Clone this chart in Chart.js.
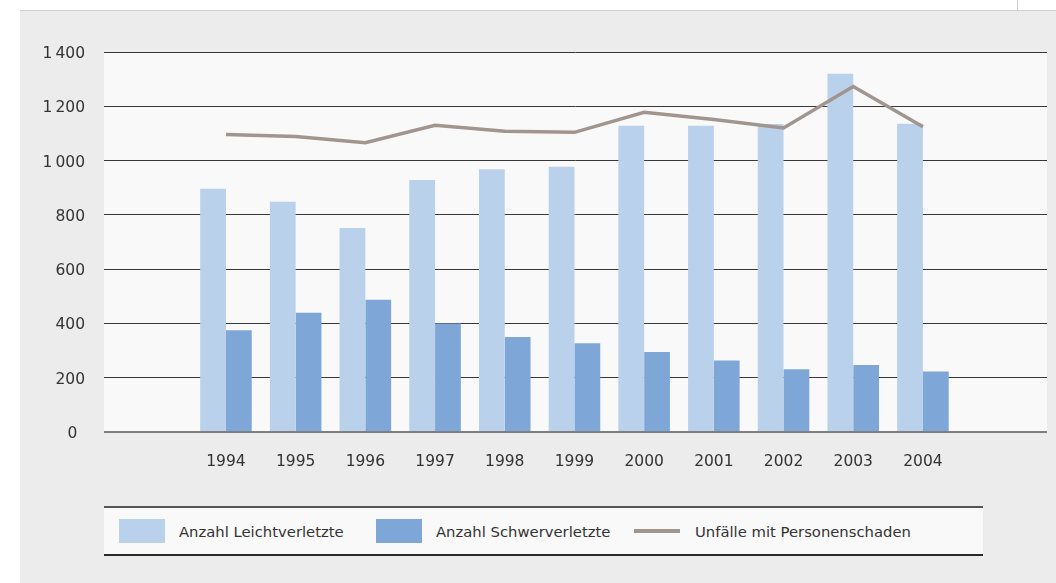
<!DOCTYPE html>
<html>
<head>
<meta charset="utf-8">
<script src="https://cdn.jsdelivr.net/npm/chart.js@4.4.1/dist/chart.umd.min.js"></script>
<style>
  html, body { margin: 0; padding: 0; background: #fff; }
  body { width: 1056px; height: 583px; position: relative; overflow: hidden; font-family: "DejaVu Sans", sans-serif; }
  #panel { position: absolute; left: 20px; top: 10px; right: 0; bottom: 0; background: #ececec; border-top: 1px solid #cfcfcf; }
  #vline { position: absolute; left: 1017px; top: 0; width: 1px; height: 10px; background: #cfcfcf; }
  #chart { position: absolute; left: 0; top: 0; }
  #legend { position: absolute; left: 104px; top: 506px; width: 879px; height: 46px; background: #f9f9f9;
            border-top: 2px solid #555; border-bottom: 2px solid #2a2a2a; }
  .item { position: absolute; top: 0; height: 46px; display: flex; align-items: center; font-size: 14.8px; color: #333; white-space: nowrap; }
  .swatch { width: 46px; height: 24px; margin-right: 14px; }
  .lineswatch { width: 46px; height: 4px; margin-right: 15px; }
</style>
</head>
<body>
<div id="panel"></div>
<div id="vline"></div>
<canvas id="chart" width="1056" height="583"></canvas>
<div id="legend"></div>
<script>
// values
const years = [1994, 1995, 1996, 1997, 1998, 1999, 2000, 2001, 2002, 2003, 2004];
const leichtverletzte = [896, 848, 752, 928, 968, 977, 1128, 1128, 1135, 1320, 1136];
const schwerverletzte = [375, 439, 487, 400, 350, 327, 295, 263, 231, 247, 223];
const unfaelle = [1096, 1089, 1066, 1130, 1108, 1104, 1178, 1151, 1120, 1273, 1125];
const yTicks = [0, 200, 400, 600, 800, 1000, 1200, 1400];
const seriesNames = ["Anzahl Leichtverletzte", "Anzahl Schwerverletzte", "Unfälle mit Personenschaden"];

const tickFont = { family: "DejaVu Sans", size: 15.5 };

function fmt(v) {
    if (v === 0) return "0\u2002";
    return String(v).replace(/(\d)(\d{3})$/, "$1\u2009$2");
}

// white plot area behind the bars
const plotBg = {
    id: "plotBg",
    beforeDraw(chart) {
        const { ctx, chartArea: a } = chart;
        ctx.save();
        ctx.fillStyle = "#f9f9f9";
        ctx.fillRect(a.left, a.top, a.right - a.left, a.bottom - a.top);
        ctx.restore();
    }
};

const pts = arr => years.map((x, i) => ({ x: x, y: arr[i] }));

const chart = new Chart(document.getElementById("chart"), {
    type: "bar",
    data: {
        datasets: [
            {
                type: "line",
                label: seriesNames[2],
                data: pts(unfaelle),
                borderColor: "#a0958f",
                borderWidth: 3.5,
                pointRadius: 0,
                tension: 0,
                order: 0
            },
            {
                label: seriesNames[0],
                data: pts(leichtverletzte),
                backgroundColor: "#bad1ec",
                categoryPercentage: 0.74,
                barPercentage: 1.0,
                order: 1
            },
            {
                label: seriesNames[1],
                data: pts(schwerverletzte),
                backgroundColor: "#7ea7d8",
                categoryPercentage: 0.74,
                barPercentage: 1.0,
                order: 1
            }
        ]
    },
    options: {
        responsive: false,
        animation: false,
        devicePixelRatio: 1,
        events: [],
        layout: { padding: { top: 52, right: 9, bottom: 91, left: 0 } },
        plugins: { legend: { display: false }, tooltip: { enabled: false } },
        scales: {
            x: {
                type: "linear",
                min: 1992.25,
                max: 2005.78,
                offset: false,
                grid: { display: false, drawTicks: false, offset: false },
                border: { display: false },
                afterBuildTicks: axis => { axis.ticks = years.map(v => ({ value: v })); },
                afterFit: axis => { axis.height = 60; },
                ticks: {
                    autoSkip: false,
                    maxRotation: 0,
                    padding: 21,
                    color: "#333",
                    font: tickFont,
                    callback: v => String(v)
                }
            },
            y: {
                min: 0,
                max: 1400,
                grid: {
                    drawTicks: false,
                    color: c => c.tick.value === 0 ? "#7f7f7f" : "#383838",
                    lineWidth: c => c.tick.value === 0 ? 2 : 1
                },
                border: { display: false },
                afterBuildTicks: axis => { axis.ticks = yTicks.map(v => ({ value: v })); },
                afterFit: axis => { axis.width = 104; },
                ticks: {
                    padding: 19,
                    labelOffset: 2,
                    color: "#333",
                    font: tickFont,
                    callback: v => fmt(v)
                }
            }
        }
    },
    plugins: [plotBg]
});

// legend built from the chart's datasets
const legendX = [15, 272, 530];
const legend = document.getElementById("legend");
[1, 2, 0].forEach((di, k) => {
    const ds = chart.data.datasets[di];
    const item = document.createElement("div");
    item.className = "item";
    item.style.left = legendX[k] + "px";
    const sw = document.createElement("div");
    if (ds.type === "line") {
        sw.className = "lineswatch";
        sw.style.background = ds.borderColor;
    } else {
        sw.className = "swatch";
        sw.style.background = ds.backgroundColor;
    }
    const txt = document.createElement("span");
    txt.textContent = ds.label;
    item.appendChild(sw);
    item.appendChild(txt);
    legend.appendChild(item);
});
</script>
</body>
</html>
